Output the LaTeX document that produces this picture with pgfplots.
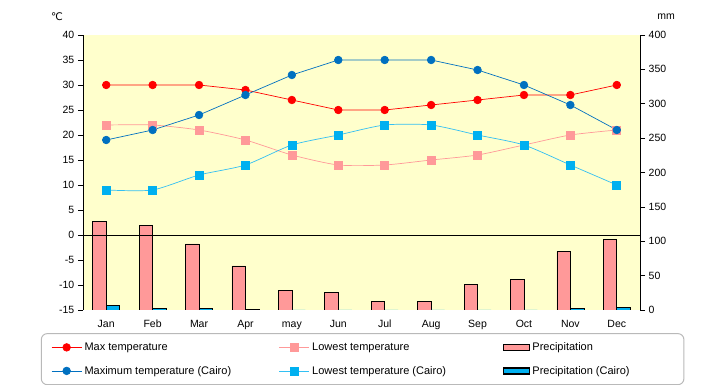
\documentclass[border=0pt]{standalone}
\usepackage{fontspec}
\setmainfont{Liberation Sans}
\newfontfamily\dejavu{DejaVu Sans}
\usepackage{pgfplots}
\pgfplotsset{compat=1.18}
\definecolor{cred}{HTML}{FF0000}
\definecolor{cpink}{HTML}{FF9999}
\definecolor{cblue}{HTML}{0070C0}
\definecolor{ccyan}{HTML}{00B0F0}
\definecolor{cbg}{HTML}{FFFFCC}
\pgfplotsset{
  mylinelegend/.style={legend image code/.code={\draw[mark repeat=2,mark phase=2,##1] plot coordinates {(0pt,0pt)(15pt,0pt)(30pt,0pt)};}},
  mybarlegend/.style={legend image code/.code={\draw[sharp corners,##1] (0pt,-3pt) rectangle (26pt,3pt);}},
}
\begin{document}
\fontsize{10.5}{12}\selectfont
\begin{tikzpicture}[x=1pt,y=1pt]
\useasboundingbox (0,0) rectangle (720,385);
% precipitation axis (right)
\begin{axis}[
  at={(83pt,75pt)}, anchor=south west,
  width=557pt, height=275pt, scale only axis,
  xmin=0.5, xmax=12.5, ymin=0, ymax=400,
  hide x axis,
  axis y line*=right,
  axis background/.style={fill=cbg},
  ytick={0,50,...,400},
  tick align=outside, major tick length=5pt,
  tick style={black, line width=0.6pt},
  axis line style={black, line width=0.8pt},
  /pgf/number format/assume math mode=true,
  yticklabel style={font=\fontsize{10.5}{12}\selectfont},
  ybar, bar width=13.5pt,
]
\addplot[fill=cpink, draw=black, line width=0.6pt, bar shift=-6.75pt] coordinates {
(1,129)(2,123)(3,96)(4,64)(5,28)(6,26)(7,13)(8,13)(9,37)(10,45)(11,85)(12,103)};
\addplot[fill=ccyan, draw=black, line width=0.6pt, bar shift=6.75pt] coordinates {
(1,7)(2,2.5)(3,2.5)(4,1)(5,0)(6,0)(7,0)(8,0)(9,0)(10,0)(11,2.5)(12,4)};
\end{axis}
% temperature axis (left)
\begin{axis}[
  at={(83pt,75pt)}, anchor=south west,
  width=557pt, height=275pt, scale only axis,
  xmin=0.5, xmax=12.5, ymin=-15, ymax=40,
  axis y line*=left, axis x line*=bottom,
  x axis line style={draw=none},
  xtick={1,...,12},
  xticklabels={Jan,Feb,Mar,Apr,may,Jun,Jul,Aug,Sep,Oct,Nov,Dec},
  xticklabel style={text height=1.6ex, text depth=0.3ex},
  major x tick style={draw=none},
  ytick={-15,-10,...,40},
  tick align=outside, major tick length=5pt,
  tick style={black, line width=0.6pt},
  axis line style={black, line width=0.8pt},
  /pgf/number format/assume math mode=true,
  ticklabel style={font=\fontsize{10.5}{12}\selectfont},
  mylinelegend,
  legend columns=3,
  legend cell align=left,
  legend style={at={(0.502,-0.084)}, anchor=north, draw=gray!55, line width=1pt,
    rounded corners=6pt, font=\fontsize{11}{13}\selectfont,
    inner xsep=10pt, inner ysep=7.5pt, row sep=11pt, column sep=1pt,
    nodes={inner sep=1.5pt}},
]
\addplot[cred, line width=0.7pt, mark=*, mark size=3.8pt, mark options={fill=cred, draw=cred}] coordinates {
(1,30)(2,30)(3,30)(4,29)(5,27)(6,25)(7,25)(8,26)(9,27)(10,28)(11,28)(12,30)};
\addlegendentry{\makebox[192pt][l]{Max temperature}}
\addplot[cpink, line width=0.7pt, smooth, tension=0.4, mark=square*, mark size=4pt, mark options={fill=cpink, draw=cpink}] coordinates {
(1,22)(2,22)(3,21)(4,19)(5,16)(6,14)(7,14)(8,15)(9,16)(10,18)(11,20)(12,21)};
\addlegendentry{\makebox[188pt][l]{Lowest temperature}}
\addlegendimage{mybarlegend, fill=cpink, draw=black, line width=1.2pt}
\addlegendentry{\makebox[140pt][l]{Precipitation}}
\addplot[cblue, line width=0.7pt, mark=*, mark size=3.8pt, mark options={fill=cblue, draw=cblue}] coordinates {
(1,19)(2,21)(3,24)(4,28)(5,32)(6,35)(7,35)(8,35)(9,33)(10,30)(11,26)(12,21)};
\addlegendentry{\makebox[192pt][l]{Maximum temperature (Cairo)}}
\addplot[ccyan!80, line width=0.7pt, smooth, tension=0.4, mark=square*, mark size=4pt, mark options={fill=ccyan, draw=ccyan}] coordinates {
(1,9)(2,9)(3,12)(4,14)(5,18)(6,20)(7,22)(8,22)(9,20)(10,18)(11,14)(12,10)};
\addlegendentry{\makebox[188pt][l]{Lowest temperature (Cairo)}}
\addlegendimage{mybarlegend, fill=ccyan, draw=black, line width=1.2pt}
\addlegendentry{\makebox[140pt][l]{Precipitation (Cairo)}}
\addplot[black, line width=0.8pt, forget plot] coordinates {(0.5,0)(12.5,0)};
\end{axis}
\node at (57,368) {\dejavu\fontsize{10.5}{12}\selectfont ℃};
\node at (666,368) {mm};
\end{tikzpicture}
\end{document}
